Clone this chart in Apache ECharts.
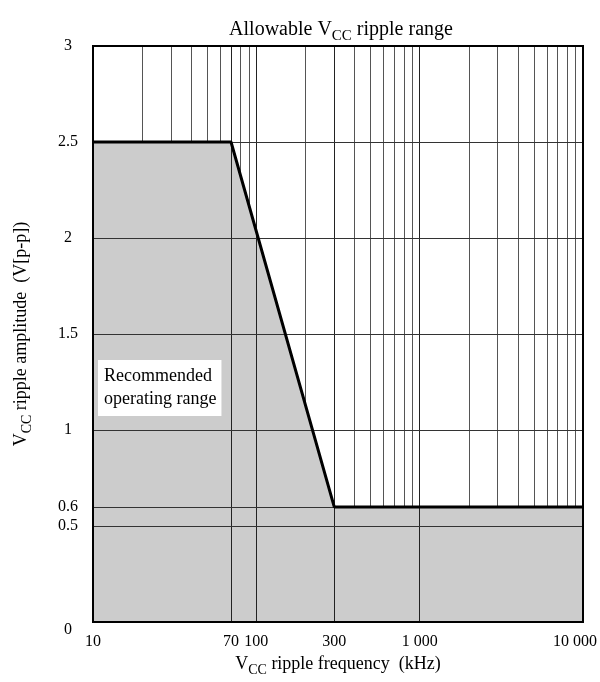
<!DOCTYPE html>
<html><head><meta charset="utf-8">
<script src="https://cdn.jsdelivr.net/npm/echarts@6/dist/echarts.min.js"></script>
<style>html,body{margin:0;padding:0;background:#fff}#c{width:600px;height:682px}</style>
</head><body><div id="c"></div>
<script>
// Data
const freq = [10, 70, 300, 10000];            // kHz
const amplitude = [2.5, 2.5, 0.6, 0.6];       // V[p-p]
const xTickLabels = [10, 70, 100, 300, 1000, 10000];
const yTickLabels = [0, 0.5, 0.6, 1, 1.5, 2, 2.5, 3];
const minorGridFreqs = [20, 30, 40, 50, 60, 80, 90, 200, 400, 500, 600, 700, 800, 900,
  2000, 3000, 4000, 5000, 6000, 7000, 8000, 9000];
const majorGridFreqs = [70, 100, 300, 1000];
const gridAmps = [0.5, 0.6, 1, 1.5, 2, 2.5];

const FONT = '"Liberation Serif", "DejaVu Serif", serif';
const fmtNum = v => {
  const r = Math.round(v);
  return String(r).replace(/\B(?=(\d{3})+(?!\d))/g, ' ');
};

const chart = echarts.init(document.getElementById('c'));
const lineData = freq.map((f, i) => [f, amplitude[i]]);
const vLine = (f, c) => ({ xAxis: f, lineStyle: { color: c, width: 1, type: 'solid' } });
const hLine = (a) => ({ yAxis: a, lineStyle: { color: '#333', width: 1, type: 'solid' } });
const nameRich = {
  a: { fontFamily: FONT, fontSize: 18, fontWeight: 'normal', color: '#000', lineHeight: 21, verticalAlign: 'bottom' },
  s: { fontFamily: FONT, fontSize: 14, fontWeight: 'normal', color: '#000', lineHeight: 14, verticalAlign: 'bottom', padding: [0, 0, -4, 0] }
};

chart.setOption({
  animation: false,
  backgroundColor: '#fff',
  title: [{
    text: '{a|Allowable V}{s|CC}{a| ripple range}',
    left: 336, top: 12, textAlign: 'center',
    textStyle: {
      fontWeight: 'normal',
      rich: {
        a: { fontFamily: FONT, fontSize: 20, fontWeight: 'normal', color: '#000', lineHeight: 23, verticalAlign: 'bottom' },
        s: { fontFamily: FONT, fontSize: 15, fontWeight: 'normal', color: '#000', lineHeight: 15, verticalAlign: 'bottom', padding: [0, 0, -4, 0] }
      }
    }
  }, {
    text: 'Recommended\noperating range',
    left: 98, top: 360,
    padding: [5, 5, 5, 6],
    backgroundColor: '#fff',
    textStyle: { fontFamily: FONT, fontSize: 18, fontWeight: 'normal', color: '#000', lineHeight: 23 }
  }],
  grid: {
    left: 93, right: 15, top: 46, bottom: 57,
    show: true, borderColor: '#000', borderWidth: 2, z: 10, backgroundColor: 'transparent'
  },
  xAxis: {
    type: 'log', logBase: 10, min: 10, max: 10000,
    axisLine: { show: false }, axisTick: { show: false }, splitLine: { show: false },
    name: '{a|V}{s|CC}{a| ripple frequency  (kHz)}',
    nameLocation: 'middle', nameGap: 29,
    nameTextStyle: { rich: nameRich },
    axisLabel: {
      customValues: xTickLabels,
      margin: 12,
      fontFamily: FONT, fontSize: 16, color: '#000',
      formatter: v => Math.round(v) === 10000 ? '{r|' + fmtNum(v) + '}' : fmtNum(v),
      rich: { r: { fontFamily: FONT, fontSize: 16, color: '#000', padding: [0, 16, 0, 0] } }
    }
  },
  yAxis: {
    type: 'value', min: 0, max: 3,
    axisLine: { show: false }, axisTick: { show: false }, splitLine: { show: false },
    name: '{a|V}{s|CC}{a| ripple amplitude  (V[p-p])}',
    nameLocation: 'middle', nameGap: 63,
    nameTextStyle: { rich: nameRich },
    axisLabel: {
      customValues: yTickLabels,
      margin: 25, align: 'center',
      fontFamily: FONT, fontSize: 16, color: '#000',
      formatter: v => v === 0 ? '{z|0}' : String(v),
      rich: { z: { fontFamily: FONT, fontSize: 16, color: '#000', padding: [16, 0, 0, 0] } }
    }
  },
  series: [{
    name: 'minor grid', type: 'line', data: [], z: 1, silent: true,
    markLine: { z: 1, silent: true, symbol: 'none', label: { show: false }, animation: false,
      data: minorGridFreqs.map(f => vLine(f, '#555')) }
  }, {
    name: 'area', type: 'line', data: lineData, z: 2, silent: true,
    symbol: 'none', lineStyle: { width: 0 },
    areaStyle: { color: '#cccccc', opacity: 1 }
  }, {
    name: 'major grid', type: 'line', data: [], z: 3, silent: true,
    markLine: { z: 3, silent: true, symbol: 'none', label: { show: false }, animation: false,
      data: majorGridFreqs.map(f => vLine(f, '#222')).concat(gridAmps.map(hLine)) }
  }, {
    name: 'limit', type: 'line', data: lineData, z: 4, silent: true,
    symbol: 'none', lineStyle: { color: '#000', width: 3 }
  }]
});
</script></body></html>
